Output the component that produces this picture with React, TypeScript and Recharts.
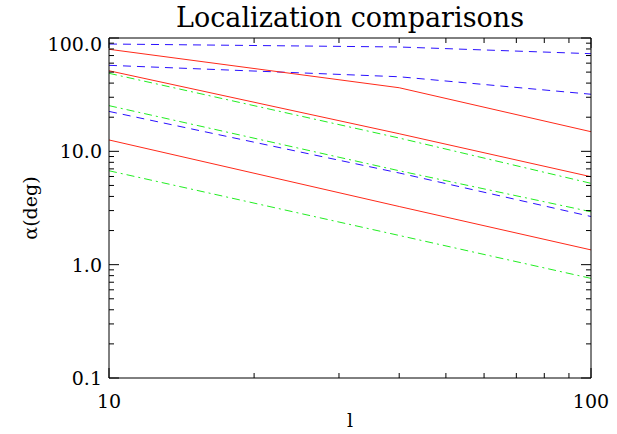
import React from "react";
import { Line, LineChart, XAxis, YAxis } from "recharts";

// l values where the curves were sampled
const lValues = [10, 40, 100];

// dashed blue
const blueTop = [88.5, 83.3, 72.7];
const blueMid = [57.4, 45.5, 31.9];
const blueLow = [22.5, 6.44, 2.66];

// solid red
const redTop = [79.5, 36.4, 14.9];
const redMid = [51.4, 14.3, 5.97];
const redLow = [12.6, 3.26, 1.35];

// dash-dot green
const greenTop = [48.8, 13.1, 5.22];
const greenMid = [25.3, 6.74, 2.93];
const greenLow = [6.74, 1.81, 0.757];

const xTicks = [10, 20, 30, 40, 50, 60, 70, 80, 90, 100];
const yTicks = [
  0.1, 0.2, 0.3, 0.4, 0.5, 0.6, 0.7, 0.8, 0.9,
  1, 2, 3, 4, 5, 6, 7, 8, 9,
  10, 20, 30, 40, 50, 60, 70, 80, 90, 100,
];
const xMajor = [10, 100];
const yMajor = [0.1, 1, 10, 100];

const data = lValues.map((l, i) => ({
  l,
  blueTop: blueTop[i],
  blueMid: blueMid[i],
  blueLow: blueLow[i],
  redTop: redTop[i],
  redMid: redMid[i],
  redLow: redLow[i],
  greenTop: greenTop[i],
  greenMid: greenMid[i],
  greenLow: greenLow[i],
}));

const W = 617;
const H = 434;
// each axis takes 1px, so the plot box is 109..591 x 38..378
const margin = { top: 37, right: 25, bottom: 55, left: 108 };
const plotLeft = 109;
const plotTop = 38;
const plotRight = 591;
const plotBottom = 378;

const FONT = "'DejaVu Serif', serif";
const BLUE = "#2a10ff";
const RED = "#ff2a1a";
const GREEN = "#22ee22";

const isMajor = (list: number[], v: number) => list.some((m) => Math.abs(m - v) < 1e-9);

function LeftTick(props: any) {
  const { y, payload } = props;
  const major = isMajor(yMajor, payload.value);
  const len = major ? 10 : 5;
  const labelY = Math.max(y, plotTop + 6);
  return (
    <g>
      <line x1={plotLeft} y1={y} x2={plotLeft + len} y2={y} stroke="#000" />
      {major && (
        <text x={plotLeft - 7} y={labelY + 7} textAnchor="end" fontFamily={FONT} fontSize={19} fill="#000">
          {payload.value.toFixed(1)}
        </text>
      )}
    </g>
  );
}

function RightTick(props: any) {
  const { y, payload } = props;
  const len = isMajor(yMajor, payload.value) ? 10 : 5;
  return <line x1={plotRight} y1={y} x2={plotRight - len} y2={y} stroke="#000" />;
}

function BottomTick(props: any) {
  const { x, payload } = props;
  const major = isMajor(xMajor, payload.value);
  const len = major ? 10 : 5;
  return (
    <g>
      <line x1={x} y1={plotBottom} x2={x} y2={plotBottom - len} stroke="#000" />
      {major && (
        <text x={x} y={plotBottom + 30} textAnchor="middle" fontFamily={FONT} fontSize={19} fill="#000">
          {payload.value}
        </text>
      )}
    </g>
  );
}

function TopTick(props: any) {
  const { x, payload } = props;
  const len = isMajor(xMajor, payload.value) ? 10 : 5;
  return <line x1={x} y1={plotTop} x2={x} y2={plotTop + len} stroke="#000" />;
}

export default function App() {
  return (
    <div style={{ position: "fixed", left: 0, top: 0, width: W, height: H, background: "#fff" }}>
      <LineChart width={W} height={H} data={data} margin={margin}>
        <XAxis
          xAxisId="b"
          dataKey="l"
          type="number"
          scale="log"
          domain={[10, 100]}
          ticks={xTicks}
          allowDataOverflow
          height={1}
          tickLine={false}
          axisLine={{ stroke: "#000" }}
          tick={<BottomTick />}
          interval={0}
        />
        <XAxis
          xAxisId="t"
          orientation="top"
          dataKey="l"
          type="number"
          scale="log"
          domain={[10, 100]}
          ticks={xTicks}
          allowDataOverflow
          height={1}
          tickLine={false}
          axisLine={{ stroke: "#000" }}
          tick={<TopTick />}
          interval={0}
        />
        <YAxis
          yAxisId="l"
          type="number"
          scale="log"
          domain={[0.1, 100]}
          ticks={yTicks}
          allowDataOverflow
          width={1}
          tickLine={false}
          axisLine={{ stroke: "#000" }}
          tick={<LeftTick />}
          interval={0}
        />
        <YAxis
          yAxisId="r"
          orientation="right"
          type="number"
          scale="log"
          domain={[0.1, 100]}
          ticks={yTicks}
          allowDataOverflow
          width={1}
          tickLine={false}
          axisLine={{ stroke: "#000" }}
          tick={<RightTick />}
          interval={0}
        />
        {["blueTop", "blueMid", "blueLow"].map((k) => (
          <Line key={k} xAxisId="b" yAxisId="l" dataKey={k} type="linear" stroke={BLUE} strokeWidth={1}
            strokeDasharray="8 6" dot={false} isAnimationActive={false} />
        ))}
        {["greenTop", "greenMid", "greenLow"].map((k) => (
          <Line key={k} xAxisId="b" yAxisId="l" dataKey={k} type="linear" stroke={GREEN} strokeWidth={1}
            strokeDasharray="8 4 2 4" dot={false} isAnimationActive={false} />
        ))}
        {["redTop", "redMid", "redLow"].map((k) => (
          <Line key={k} xAxisId="b" yAxisId="l" dataKey={k} type="linear" stroke={RED} strokeWidth={1}
            dot={false} isAnimationActive={false} />
        ))}
        <text x={(plotLeft + plotRight) / 2} y={27} textAnchor="middle" fontFamily={FONT} fontSize={27} fill="#000">
          Localization comparisons
        </text>
        <text x={(plotLeft + plotRight) / 2} y={427} textAnchor="middle" fontFamily={FONT} fontSize={19} fill="#000">
          l
        </text>
        <text
          x={37}
          y={(plotTop + plotBottom) / 2}
          textAnchor="middle"
          fontFamily={FONT}
          fontSize={19}
          fill="#000"
          transform={`rotate(-90 37 ${(plotTop + plotBottom) / 2})`}
        >
          α(deg)
        </text>
      </LineChart>
    </div>
  );
}
